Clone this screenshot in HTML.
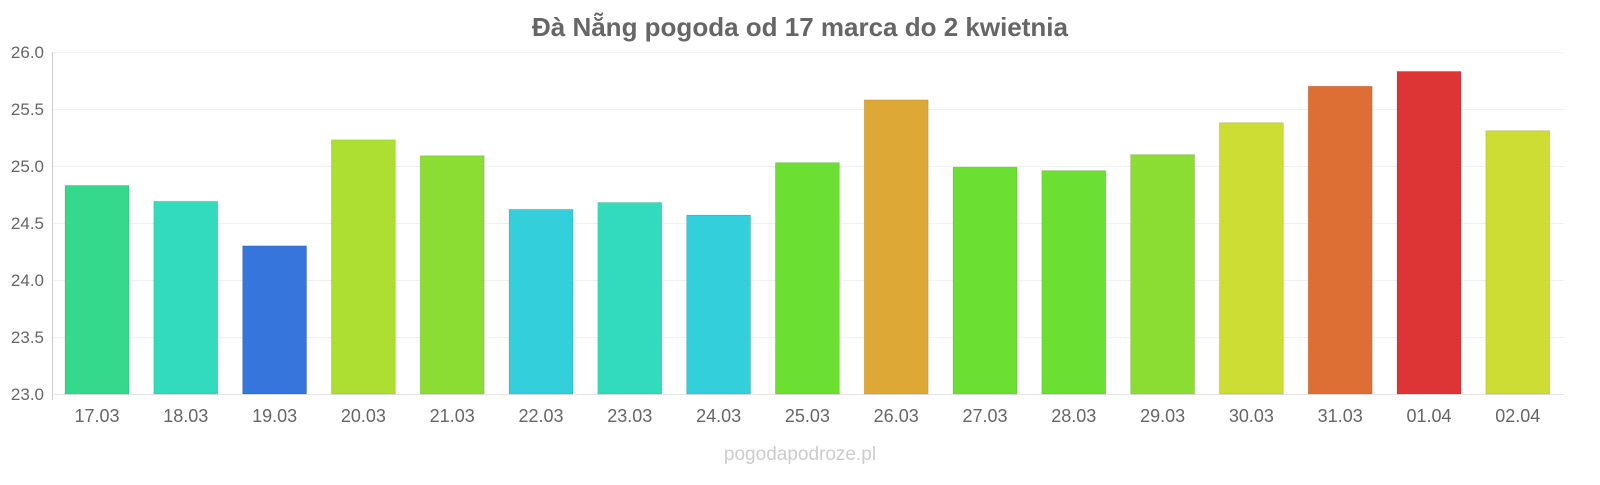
<!DOCTYPE html>
<html><head><meta charset="utf-8"><style>
body{margin:0;background:#fff;width:1600px;height:480px;overflow:hidden;font-family:"Liberation Sans",sans-serif;}
</style></head><body>
<svg width="1600" height="480" xmlns="http://www.w3.org/2000/svg" font-family="Liberation Sans, sans-serif">
<text x="800" y="36" text-anchor="middle" font-size="26" font-weight="bold" fill="#666">Đà Nẵng pogoda od 17 marca do 2 kwietnia</text>
<g stroke="#f0f0f0" stroke-width="1">
<line x1="52" x2="1564" y1="52.5" y2="52.5"/><line x1="52" x2="1564" y1="109.5" y2="109.5"/>
<line x1="52" x2="1564" y1="166.5" y2="166.5"/><line x1="52" x2="1564" y1="223.5" y2="223.5"/>
<line x1="52" x2="1564" y1="280.5" y2="280.5"/><line x1="52" x2="1564" y1="337.5" y2="337.5"/>
</g>
<line x1="52.5" x2="52.5" y1="52" y2="400" stroke="#ccc"/>
<line x1="52" x2="1564" y1="394.5" y2="394.5" stroke="#e6e6e6"/>
<g font-size="17" fill="#666" text-anchor="end">
<text x="44" y="58">26.0</text><text x="44" y="115">25.5</text><text x="44" y="172">25.0</text>
<text x="44" y="229">24.5</text><text x="44" y="286">24.0</text><text x="44" y="343">23.5</text><text x="44" y="400">23.0</text>
</g>
<g stroke="rgba(0,0,0,0.1)" stroke-width="1">
<rect x="65" y="185.4" width="64" height="208.6" fill="#34d98b"/>
<rect x="153.8" y="201.3" width="64" height="192.7" fill="#33dbbd"/>
<rect x="242.6" y="245.8" width="64" height="148.2" fill="#3575dc"/>
<rect x="331.4" y="139.8" width="64" height="254.2" fill="#addf33"/>
<rect x="420.2" y="155.7" width="64" height="238.3" fill="#8bdd33"/>
<rect x="509" y="209.3" width="64" height="184.7" fill="#33cfdb"/>
<rect x="597.8" y="202.5" width="64" height="191.5" fill="#33dbbd"/>
<rect x="686.6" y="215" width="64" height="179" fill="#33cfdb"/>
<rect x="775.4" y="162.6" width="64" height="231.4" fill="#6be033"/>
<rect x="864.2" y="99.9" width="64" height="294.1" fill="#dda835"/>
<rect x="953" y="167.1" width="64" height="226.9" fill="#6be033"/>
<rect x="1041.8" y="170.6" width="64" height="223.4" fill="#6be033"/>
<rect x="1130.6" y="154.6" width="64" height="239.4" fill="#8bdd33"/>
<rect x="1219.4" y="122.7" width="64" height="271.3" fill="#cedd33"/>
<rect x="1308.2" y="86.2" width="64" height="307.8" fill="#dd6f35"/>
<rect x="1397" y="71.4" width="64" height="322.6" fill="#dd3535"/>
<rect x="1485.8" y="130.7" width="64" height="263.3" fill="#cedd33"/>
</g>
<g font-size="18" fill="#666" text-anchor="middle">
<text x="97" y="422">17.03</text><text x="185.8" y="422">18.03</text><text x="274.6" y="422">19.03</text>
<text x="363.4" y="422">20.03</text><text x="452.2" y="422">21.03</text><text x="541" y="422">22.03</text>
<text x="629.8" y="422">23.03</text><text x="718.6" y="422">24.03</text><text x="807.4" y="422">25.03</text>
<text x="896.2" y="422">26.03</text><text x="985" y="422">27.03</text><text x="1073.8" y="422">28.03</text>
<text x="1162.6" y="422">29.03</text><text x="1251.4" y="422">30.03</text><text x="1340.2" y="422">31.03</text>
<text x="1429" y="422">01.04</text><text x="1517.8" y="422">02.04</text>
</g>
<text x="800" y="460" text-anchor="middle" font-size="19" fill="#ccc">pogodapodroze.pl</text>
</svg>
</body></html>
